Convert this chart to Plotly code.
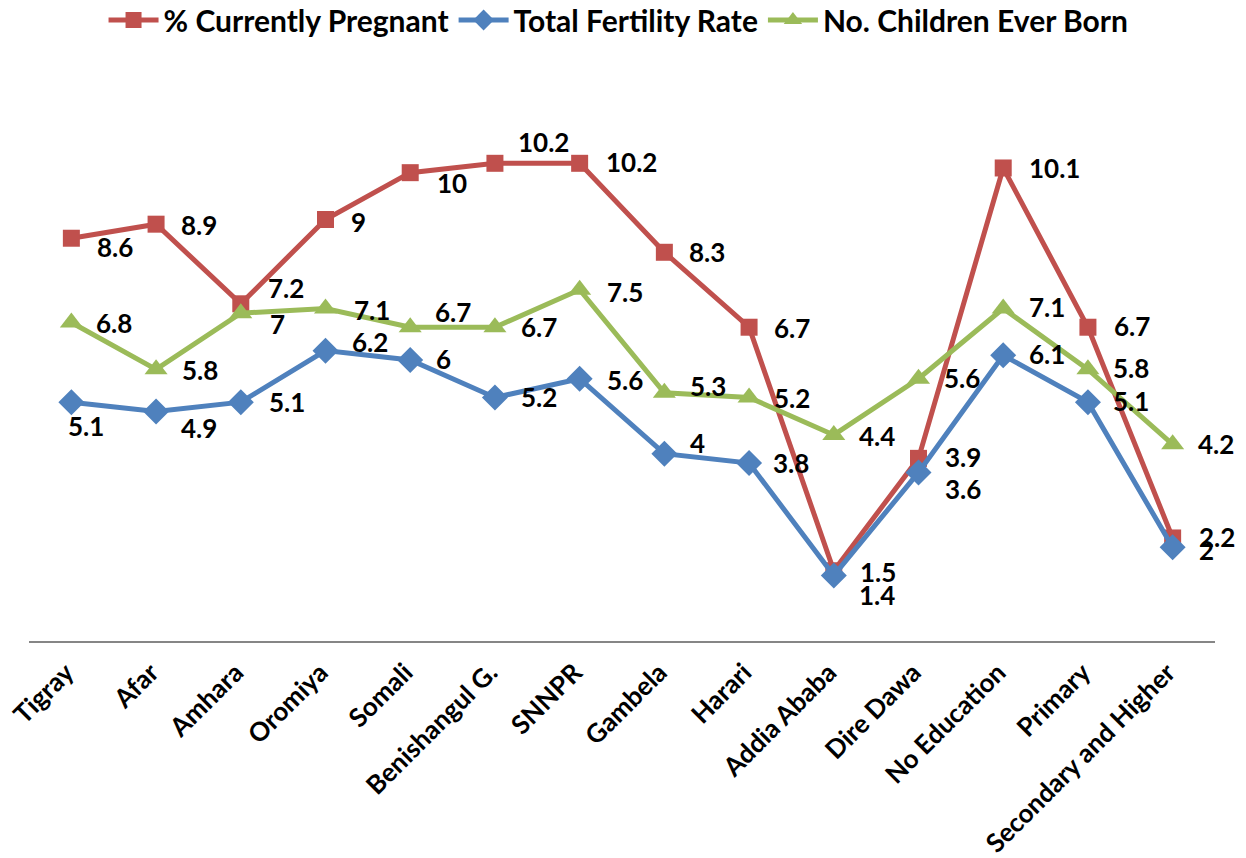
import plotly.graph_objects as go

categories = ["Tigray", "Afar", "Amhara", "Oromiya", "Somali", "Benishangul G.", "SNNPR",
              "Gambela", "Harari", "Addia Ababa", "Dire Dawa", "No Education", "Primary",
              "Secondary and Higher"]
pregnant = [8.6, 8.9, 7.2, 9, 10, 10.2, 10.2, 8.3, 6.7, 1.5, 3.9, 10.1, 6.7, 2.2]
tfr = [5.1, 4.9, 5.1, 6.2, 6, 5.2, 5.6, 4, 3.8, 1.4, 3.6, 6.1, 5.1, 2]
ceb = [6.8, 5.8, 7, 7.1, 6.7, 6.7, 7.5, 5.3, 5.2, 4.4, 5.6, 7.1, 5.8, 4.2]

# label offsets (pixels) for data labels
preg_dx = [26, 25, 27, 25, 27, 23, 26, 25, 25, 26, 26, 26, 26, 26]
preg_dy = [-10, -2, 15, -3, -11, 20, 0, -1, -2, -2, 0, -1, 0, 0]
tfr_dx = [-3, 25, 28, 26, 26, 26, 27, 26, 24, 25, 26, 26, 25, 26]
tfr_dy = [-25, -17, -1, 8, 0, -1, -2, 10, -1, -21, -18, 0, 0, -4]
ceb_dx = [25, 26, 29, 28, 25, 26, 27, 26, 25, 25, 25, 26, 25, 25]
ceb_dy = [-1, -2, -12, -3, 14, -1, -3, 6, -2, -2, 0, 0, 0, -1]

RED = "#C0504D"
BLUE = "#4F81BD"
GREEN = "#9BBB59"
FONT = "Lato"

series = [
    ("% Currently Pregnant", pregnant, RED, "square", 17, preg_dx, preg_dy),
    ("Total Fertility Rate", tfr, BLUE, "diamond", 20, tfr_dx, tfr_dy),
    ("No. Children Ever Born", ceb, GREEN, "triangle-up", 20, ceb_dx, ceb_dy),
]

fig = go.Figure()
annotations = []
for name, vals, color, sym, size, dxs, dys in series:
    fig.add_trace(go.Scatter(
        x=categories, y=vals, name=name, mode="lines+markers",
        line=dict(color=color, width=5),
        marker=dict(symbol=sym, size=size, color=color, line=dict(width=0)),
    ))
    for c, v, dx, dy in zip(categories, vals, dxs, dys):
        annotations.append(dict(
            x=c, y=v, xref="x", yref="y", text="<b>%g</b>" % v, showarrow=False,
            xanchor="left", yanchor="middle", xshift=dx - 2, yshift=dy + 1,
            font=dict(family=FONT, size=26, color="black"),
        ))

fig.update_layout(
    width=1246, height=858,
    margin=dict(l=21, r=39, t=71, b=225, autoexpand=False),
    paper_bgcolor="white", plot_bgcolor="white",
    showlegend=True,
    legend=dict(orientation="h", x=0.49, xanchor="center", xref="container",
                y=0.986, yanchor="middle", yref="container",
                font=dict(family=FONT, size=30, color="black", weight="bold"),
                itemwidth=50, tracegroupgap=0),
    annotations=annotations,
    xaxis=dict(type="category", showgrid=False, showline=True, linecolor="#868686",
               linewidth=2, ticks="", tickangle=-45, ticklabelstandoff=4,
               ticklabelshift=-5, automargin=False,
               tickfont=dict(family=FONT, size=26, color="black", weight="bold"),
               range=[-0.5, len(categories) - 0.5], fixedrange=True, zeroline=False),
    yaxis=dict(range=[0, 12], showgrid=False, showline=False, showticklabels=False,
               zeroline=False, ticks="", automargin=False),
)

fig.write_html("out.html")
